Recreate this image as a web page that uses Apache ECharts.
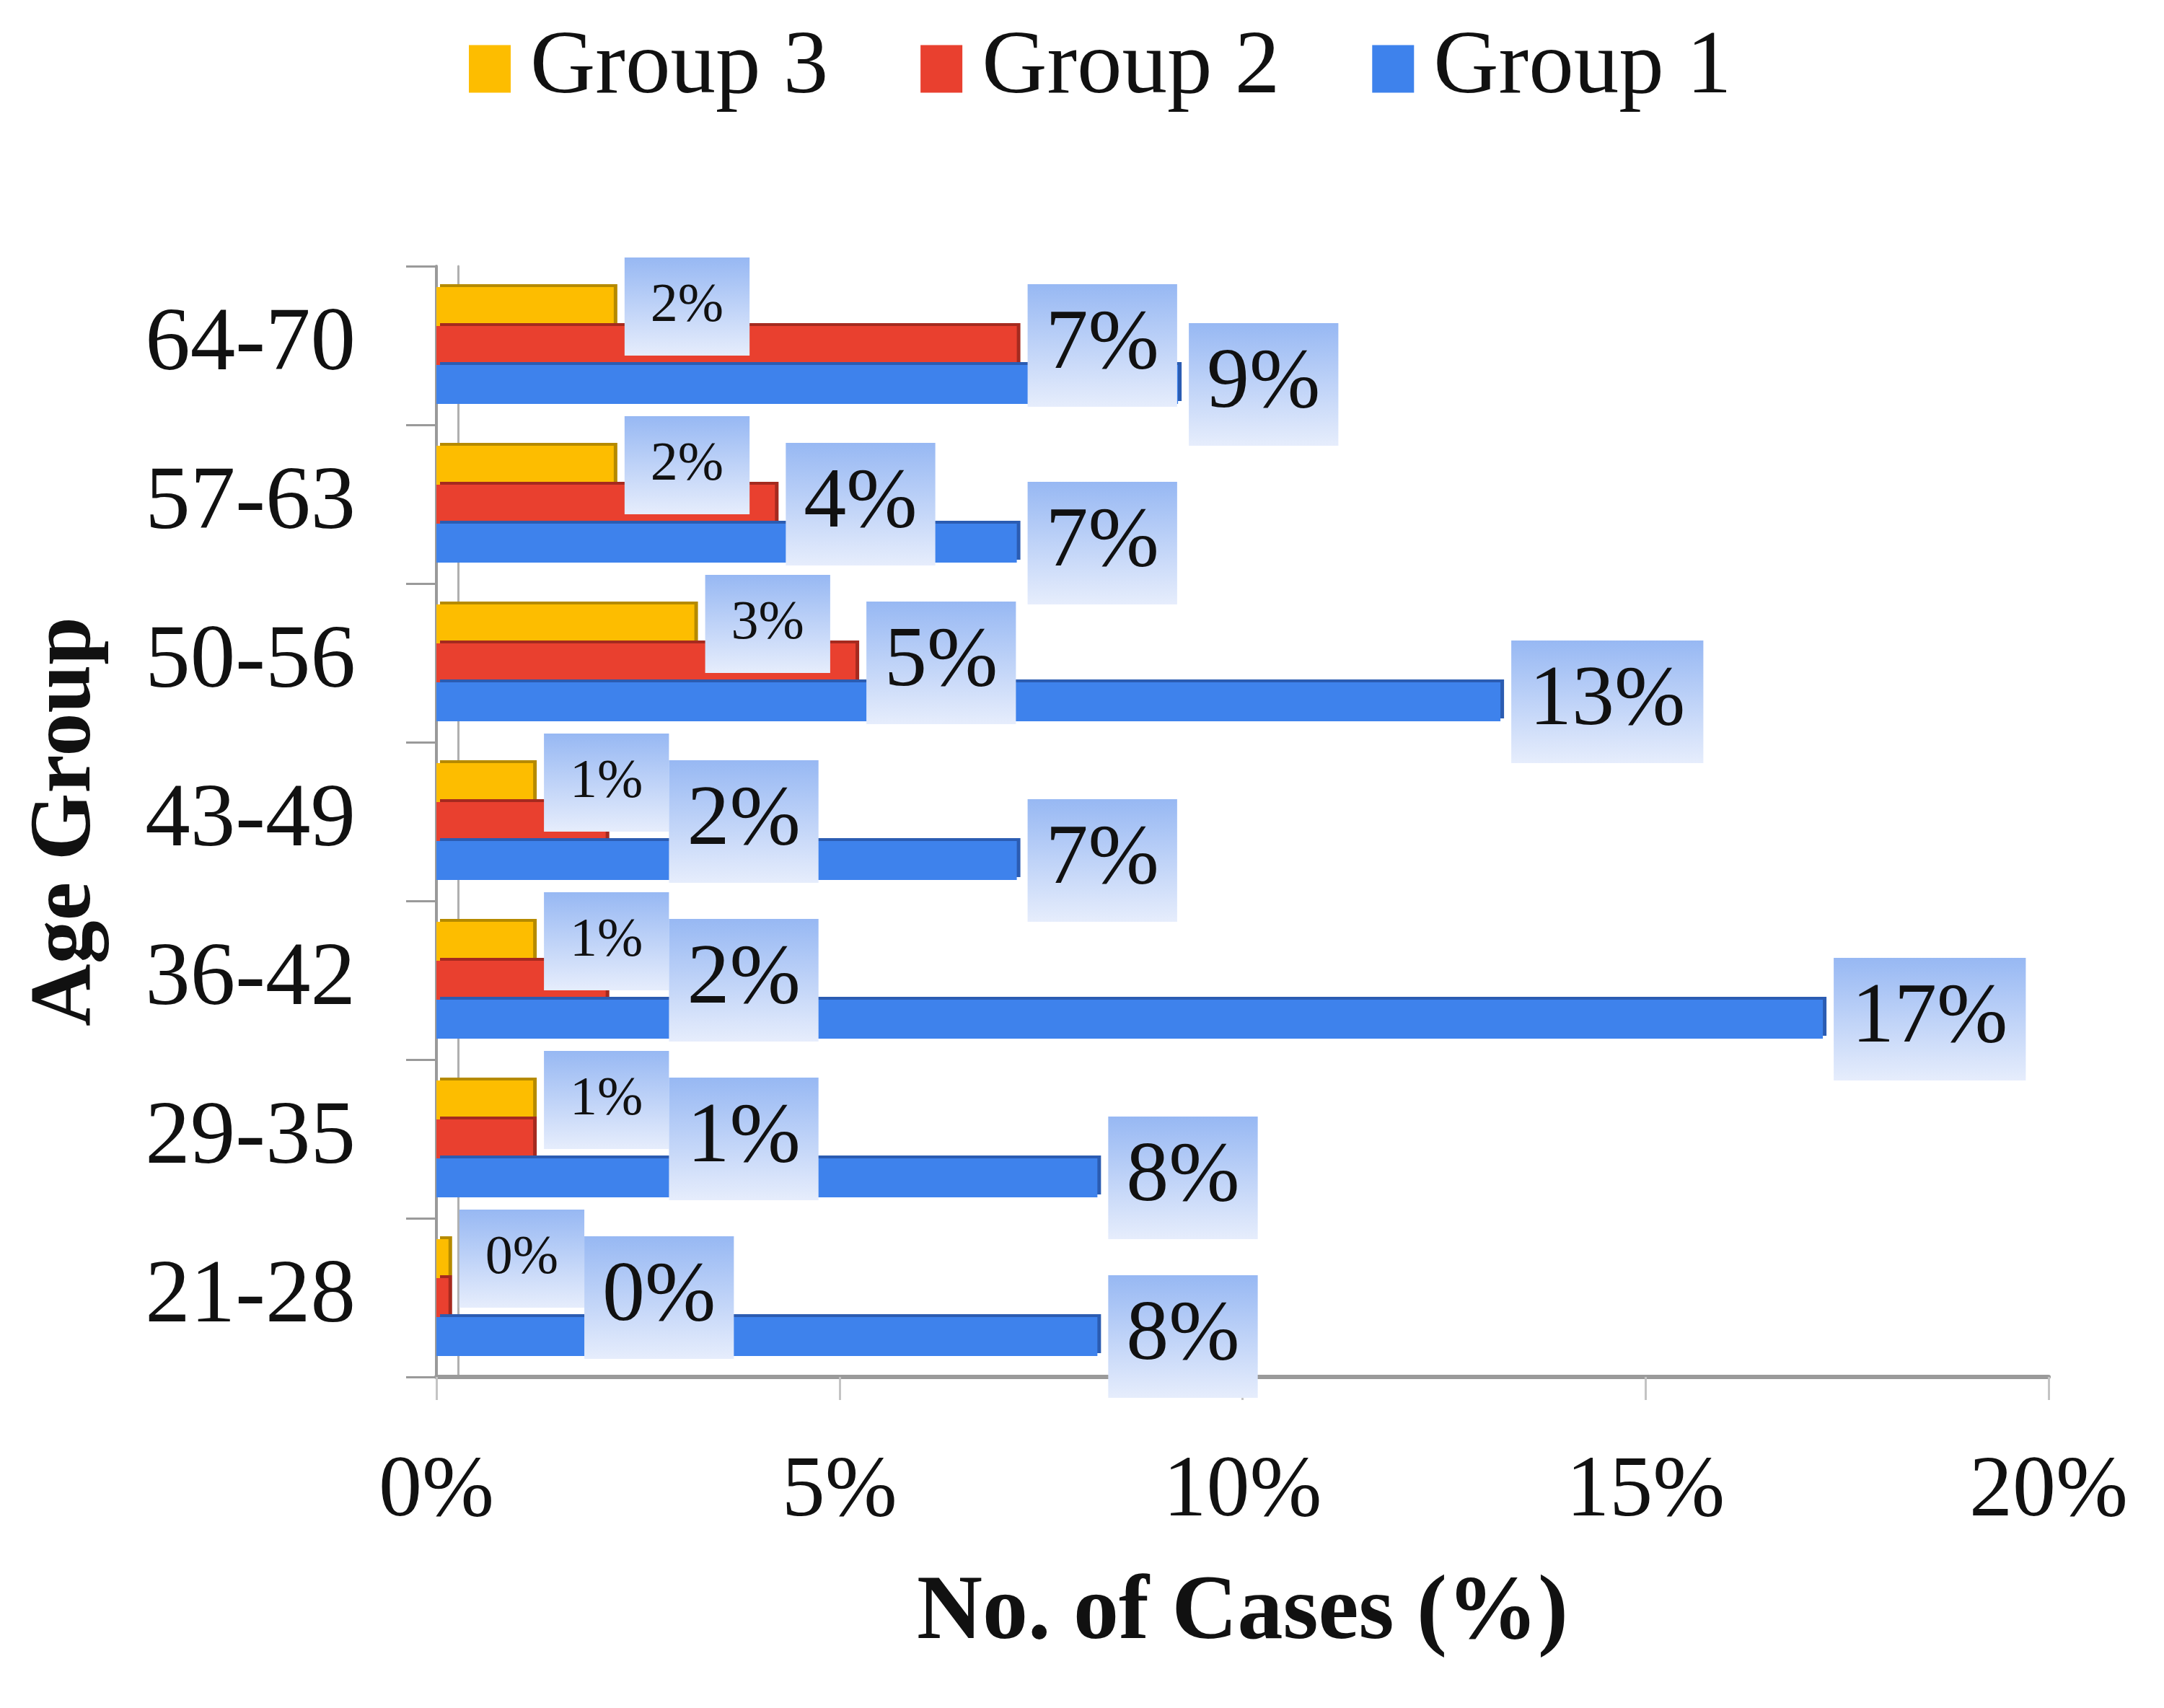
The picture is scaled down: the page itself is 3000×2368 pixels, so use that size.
<!DOCTYPE html>
<html>
<head>
<meta charset="utf-8">
<script src="https://cdn.jsdelivr.net/npm/echarts@6/dist/echarts.min.js"></script>
<style>
html,body{margin:0;padding:0;background:#fff;}
#chart{width:3000px;height:2368px;}
</style>
</head>
<body>
<div id="chart"></div>
<script>
// ---- data ----
const categories = ['21-28', '29-35', '36-42', '43-49', '50-56', '57-63', '64-70'];
const group1 = [8.2, 8.2, 17.2, 7.2, 13.2, 7.2, 9.2];
const group2 = [0.15, 1.2, 2.1, 2.1, 5.2, 4.2, 7.2];
const group3 = [0.15, 1.2, 1.2, 1.2, 3.2, 2.2, 2.2];
const xTicks = [0, 5, 10, 15, 20];
const seriesNames = ['Group 3', 'Group 2', 'Group 1'];

const FONT = '"Liberation Serif", "Times New Roman", serif';
const chart = echarts.init(document.getElementById('chart'), null, {renderer: 'canvas'});

const labelBg = {
  type: 'linear', x: 0, y: 0, x2: 0, y2: 1,
  colorStops: [{offset: 0, color: '#97b8f3'}, {offset: 1, color: '#e6edfc'}]
};

// right edge of Group 3 labels per category (used to keep Group 2 labels beside them)
const g3LabelRight = {};
function labelLayoutFn(p) {
  if (p.seriesIndex === 0) {
    g3LabelRight[p.dataIndex] = p.labelRect.x + p.labelRect.width;
    return {};
  }
  if (p.seriesIndex === 1) {
    const r = g3LabelRight[p.dataIndex];
    if (r != null && p.labelRect.x < r) {
      return {dx: r - p.labelRect.x};
    }
  }
  return {};
}

function makeSeries(name, data, color, dark, small) {
  return {
    name: name,
    type: 'bar',
    data: data,
    barWidth: 54,
    barGap: '0%',
    itemStyle: {
      color: color,
      shadowColor: dark,
      shadowOffsetX: 5,
      shadowOffsetY: -4,
      shadowBlur: 0
    },
    label: {
      show: true,
      position: 'right',
      distance: 15,
      formatter: function (p) { return Math.round(p.value) + '%'; },
      fontFamily: FONT,
      fontSize: small ? 76 : 118,
      lineHeight: small ? 76 : 118,
      color: '#111',
      backgroundColor: labelBg,
      padding: small ? [30, 36, 30, 36] : [26, 25, 26, 25]
    },
    labelLayout: labelLayoutFn
  };
}

const option = {
  backgroundColor: '#ffffff',
  animation: false,
  legend: {
    data: seriesNames,
    top: 28,
    left: 645,
    icon: 'rect',
    itemWidth: 58,
    itemHeight: 66,
    itemGap: 128,
    textStyle: {fontFamily: FONT, fontSize: 125, lineHeight: 125, color: '#111', padding: [0, 0, 0, 22]}
  },
  grid: {left: 605, right: 160, top: 369, bottom: 459, containLabel: false, outerBoundsMode: 'none'},
  xAxis: {
    type: 'value',
    min: xTicks[0],
    max: xTicks[xTicks.length - 1],
    interval: xTicks[1] - xTicks[0],
    name: 'No. of Cases (%)',
    nameLocation: 'middle',
    nameGap: 266,
    nameTextStyle: {fontFamily: FONT, fontSize: 126, fontWeight: 'bold', color: '#111'},
    axisLine: {show: true, lineStyle: {color: '#9a9a9a', width: 6}},
    axisTick: {show: true, length: 32, lineStyle: {color: '#c4c4c4', width: 3}},
    splitLine: {show: false},
    axisLabel: {
      fontFamily: FONT, fontSize: 120, color: '#111', margin: 100,
      formatter: function (v) { return v + '%'; }
    }
  },
  yAxis: [{
    type: 'category',
    data: categories,
    name: 'Age Group',
    nameLocation: 'middle',
    nameGap: 452,
    nameRotate: 90,
    nameTextStyle: {fontFamily: FONT, fontSize: 120, fontWeight: 'bold', color: '#111'},
    axisLine: {show: true, lineStyle: {color: '#9a9a9a', width: 4}},
    axisTick: {show: true, length: 42, lineStyle: {color: '#9a9a9a', width: 3}},
    axisLabel: {fontFamily: FONT, fontSize: 125, color: '#111', margin: 112}
  }, {
    type: 'category',
    data: categories,
    position: 'left',
    offset: -30,
    axisLine: {show: true, lineStyle: {color: '#b0b0b0', width: 3}},
    axisTick: {show: false},
    axisLabel: {show: false},
    splitLine: {show: false}
  }],
  series: [
    makeSeries(seriesNames[0], group3, '#fdbd00', '#b58a00', true),
    makeSeries(seriesNames[1], group2, '#e9402f', '#a52a1f', false),
    makeSeries(seriesNames[2], group1, '#3e82ec', '#2b5cb2', false)
  ]
};
chart.setOption(option);
</script>
</body>
</html>
